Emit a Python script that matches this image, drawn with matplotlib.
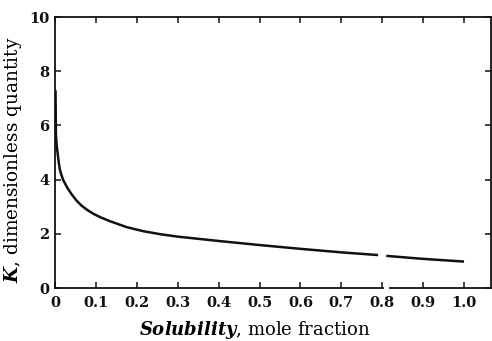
import matplotlib
matplotlib.use("Agg")
import matplotlib.pyplot as plt
import numpy as np

# solubility (mole fraction) vs K
# the printed line has a small break near 0.8, so two segments
sol_a = [0.001, 0.002, 0.004, 0.006, 0.009, 0.012, 0.016, 0.02, 0.03, 0.04, 0.053,
         0.065, 0.08, 0.094, 0.11, 0.134, 0.175, 0.216, 0.257, 0.30, 0.40,
         0.50, 0.60, 0.70, 0.79]
k_a = [7.3, 5.65, 5.25, 5.0, 4.62, 4.35, 4.15, 3.98, 3.70, 3.47, 3.22,
       3.04, 2.87, 2.74, 2.62, 2.47, 2.25, 2.10, 1.99, 1.90, 1.74,
       1.59, 1.45, 1.32, 1.22]
sol_b = [0.81, 0.90, 1.00]
k_b = [1.19, 1.08, 0.98]

x_ticks = [0, 0.1, 0.2, 0.3, 0.4, 0.5, 0.6, 0.7, 0.8, 0.9, 1.0]
x_ticklabels = ["0", "0.1", "0.2", "0.3", "0.4", "0.5", "0.6", "0.7", "0.8", "0.9", "1.0"]
y_ticks = [0, 2, 4, 6, 8, 10]

plt.rcParams['font.family'] = ['DejaVu Serif']
plt.rcParams['mathtext.fontset'] = 'custom'
plt.rcParams['mathtext.it'] = 'DejaVu Serif:italic:bold'
plt.rcParams['mathtext.rm'] = 'DejaVu Serif'

fig = plt.figure(figsize=(4.92, 3.41), dpi=100)
ax = fig.add_axes([0.112, 0.155, 0.886, 0.795])

ax.plot(sol_a, k_a, color='#111111', lw=1.8, solid_capstyle='butt')
ax.plot(sol_b, k_b, color='#111111', lw=1.8, solid_capstyle='butt')

ax.set_xlim(0, 1.066)
ax.set_ylim(0, 10)
ax.set_xticks(x_ticks)
ax.set_xticklabels(x_ticklabels)
ax.set_yticks(y_ticks)
ax.tick_params(direction='in', top=True, right=True, length=4, width=1.1,
               labelsize=10.5, colors='#111111')
ax.tick_params(axis='x', pad=6)
ax.tick_params(axis='y', pad=4)
for lab in ax.get_xticklabels() + ax.get_yticklabels():
    lab.set_fontweight('bold')

for s in ax.spines.values():
    s.set_linewidth(1.3)
    s.set_color('#111111')

# bottom spine is broken just right of 0.8 like the print
ax.spines['bottom'].set_visible(False)
ax.plot([0, 0.802], [0, 0], transform=ax.get_xaxis_transform(), color='#111111',
        lw=1.3, clip_on=False)
ax.plot([0.818, 1.066], [0, 0], transform=ax.get_xaxis_transform(), color='#111111',
        lw=1.3, clip_on=False)

ax.set_xlabel(r'$\mathit{Solubility}$, mole fraction', fontsize=13)
ax.set_ylabel(r'$\mathit{K}$, dimensionless quantity', fontsize=13.3)
ax.xaxis.set_label_coords(0.459, -0.112)
ax.yaxis.set_label_coords(-0.072, 0.472)

fig.savefig("out.png", dpi=100)
